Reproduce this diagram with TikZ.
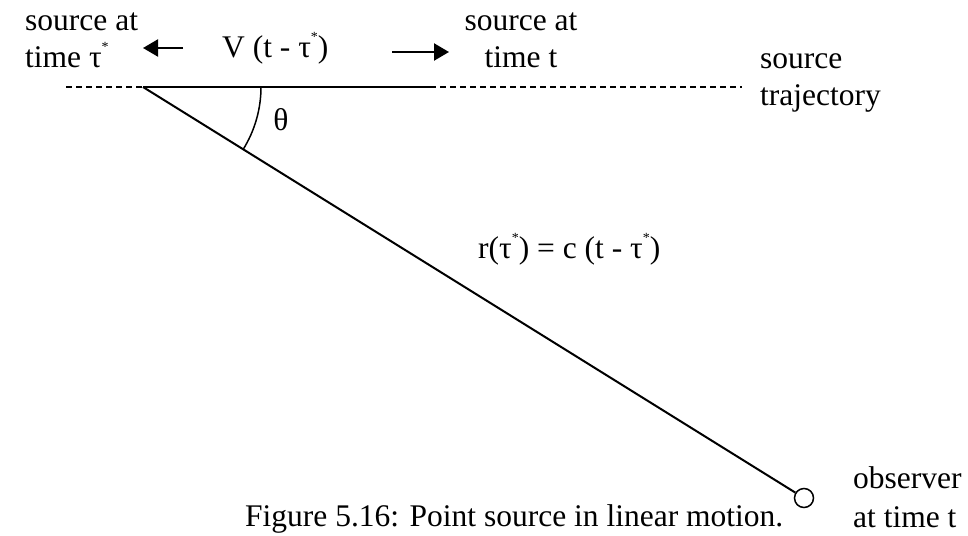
\documentclass[tikz,border=0pt]{standalone}
\usepackage{fontspec}
\setmainfont{Liberation Serif}
\usetikzlibrary{arrows.meta}
\newcommand\sstar{\raisebox{0.5em}{\fontsize{14}{14}\selectfont *}}
\begin{document}
\begin{tikzpicture}[x=1pt,y=-1pt,
  lbl/.style={inner sep=0pt, font=\fontsize{31.5}{36}\selectfont},
  trajdash/.style={line width=1.4pt, dash pattern=on 6pt off 4pt},
  movedline/.style={line width=2.8pt},
  ray/.style={line width=2pt},
  dirarrow/.style={line width=2.2pt, -{Triangle[length=15pt,width=17pt]}},
  observer/.style={circle, draw, line width=1.5pt, minimum size=19pt, inner sep=0pt}]
\useasboundingbox (0,0) rectangle (968,535);
% points
\coordinate (S) at (143,87);
\coordinate (T) at (430,87);
\coordinate (DL) at (66,87);
\coordinate (DR) at (742,87);
\node[observer] (O) at (804,498) {};
% trajectory
\draw[trajdash] (DL) -- (S);
\draw[trajdash] (T) -- (DR);
\draw[movedline] (S) -- (T);
% ray to observer
\draw[ray] (S) -- (O);
% angle arc
\draw[line width=1.5pt] (S) ++(118pt,0pt) arc[start angle=0, end angle=-31.9, radius=118pt];
\node[lbl] (theta) at (281,120) {θ};
% arrows
\coordinate (LA1) at (183,48);
\coordinate (LA2) at (143,48);
\coordinate (RA1) at (392,52);
\coordinate (RA2) at (449,52);
\draw[dirarrow] (LA1) -- (LA2);
\draw[dirarrow] (RA1) -- (RA2);
% labels (base anchor = baseline of the last line)
\node[lbl, anchor=base west, align=left] (srctau) at (25,67) {source at\\time τ\sstar};
\node[lbl, anchor=base west] (vlbl) at (222,57) {V (t - τ\sstar)};
\node[lbl, anchor=base, align=center] (srct) at (521,67) {source at\\time t};
\node[lbl, anchor=base west, align=left] (traj) at (760,105) {source\\[1pt]trajectory};
\node[lbl, anchor=base west] (rlbl) at (478,258) {r(τ\sstar) = c (t - τ\sstar)};
\node[lbl, anchor=base west, align=left] (obs) at (853,527) {observer\\[3pt]at time t};
\node[lbl, anchor=base west] (cap) at (245,526) {Figure 5.16: Point source in linear motion.};
\end{tikzpicture}
\end{document}
